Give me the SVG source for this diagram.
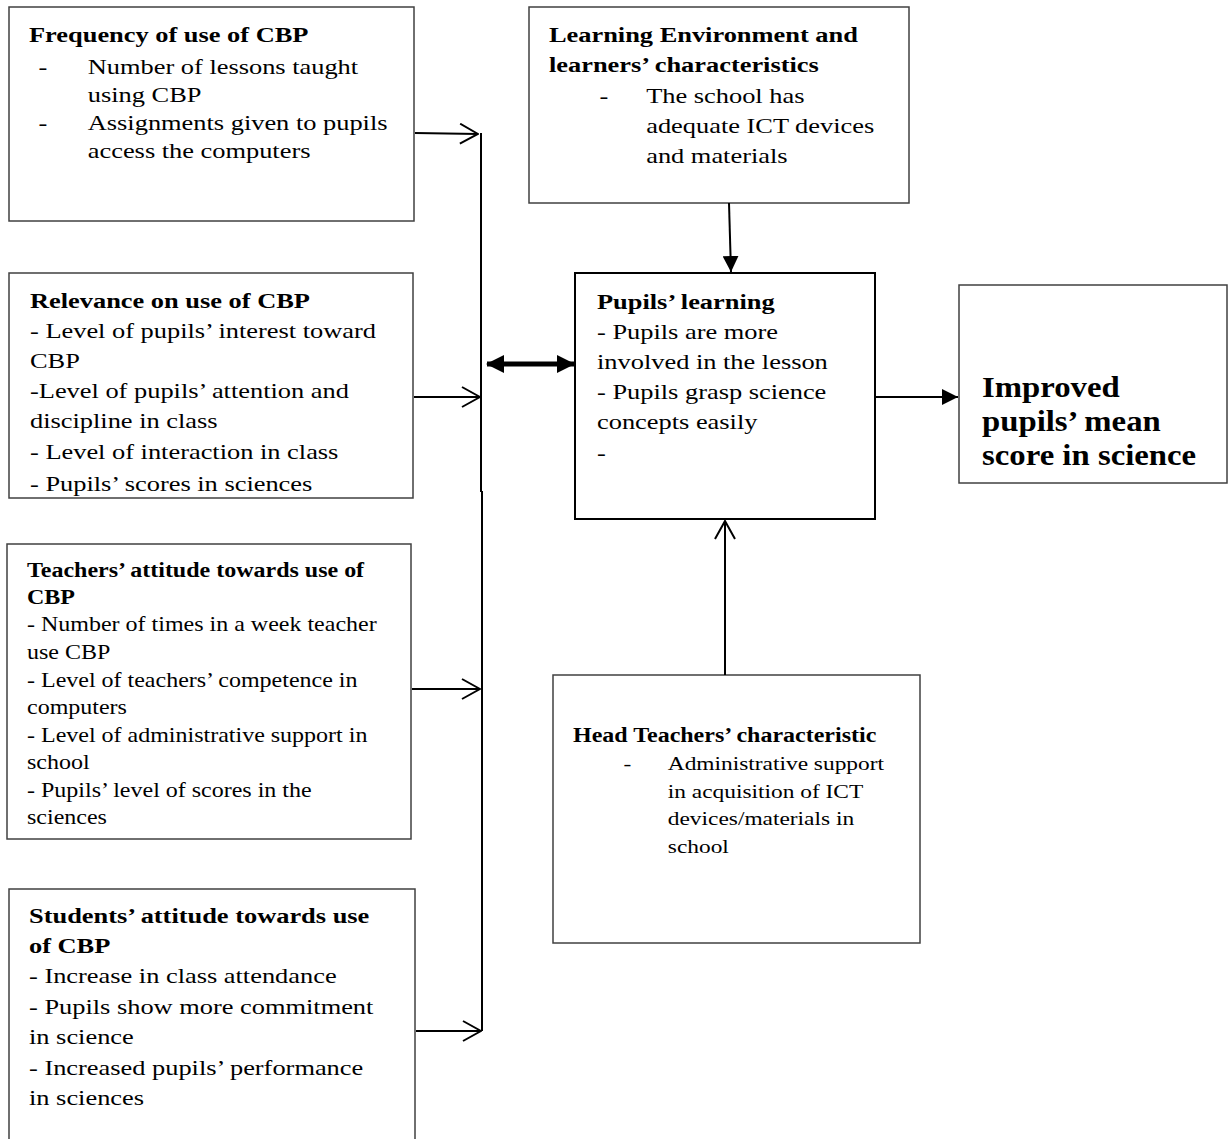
<svg xmlns="http://www.w3.org/2000/svg" width="1230" height="1139" viewBox="0 0 1230 1139">
<style>
text{font-family:"Liberation Serif","Times New Roman",serif;fill:#000}
.t{font-weight:bold;font-size:22px}
.b{font-size:22px}
.t20{font-weight:bold;font-size:20px}
.b20{font-size:20px}
.b19{font-size:19.5px}
.big{font-weight:bold;font-size:29px}
.box{fill:#fff;stroke:#404040;stroke-width:1.5}
.boxk{fill:#fff;stroke:#000;stroke-width:2}
.c{stroke:#000;stroke-width:2;fill:none}
</style>
<defs>
<marker id="open" viewBox="0 0 20 22" refX="19" refY="11" markerWidth="20" markerHeight="22" markerUnits="userSpaceOnUse" orient="auto"><path d="M1,1 L19,11 L1,21" fill="none" stroke="#000" stroke-width="2"/></marker>
<marker id="fill" viewBox="0 0 16 16" refX="16" refY="8" markerWidth="16" markerHeight="16" markerUnits="userSpaceOnUse" orient="auto"><path d="M0,0 L16,8 L0,16 Z" fill="#000"/></marker>
<marker id="thick" viewBox="0 0 18 18" refX="17" refY="9" markerWidth="18" markerHeight="18" markerUnits="userSpaceOnUse" orient="auto-start-reverse"><path d="M0,0 L18,9 L0,18 Z" fill="#000"/></marker>
</defs>

<g id="freq">
<rect class="box" x="9" y="7" width="405" height="214"/>
<g transform="translate(29,0) scale(1.2,1)">
<text class="t" x="0" y="42">Frequency of use of CBP</text>
<text class="b" x="8" y="74">-</text>
<text class="b" x="49" y="74">Number of lessons taught</text>
<text class="b" x="49" y="102">using CBP</text>
<text class="b" x="8" y="130">-</text>
<text class="b" x="49" y="130">Assignments given to pupils</text>
<text class="b" x="49" y="158">access the computers</text>
</g>
</g>

<g id="env">
<rect class="box" x="529" y="7" width="380" height="196"/>
<g transform="translate(549,0) scale(1.2,1)">
<text class="t" x="0" y="42">Learning Environment and</text>
<text class="t" x="0" y="72">learners’ characteristics</text>
<text class="b" x="42" y="103">-</text>
<text class="b" x="81" y="103">The school has</text>
<text class="b" x="81" y="133">adequate ICT devices</text>
<text class="b" x="81" y="163">and materials</text>
</g>
</g>

<g id="relev">
<rect class="box" x="9" y="273" width="404" height="225"/>
<g transform="translate(30,0) scale(1.2,1)">
<text class="t" x="0" y="308">Relevance on use of CBP</text>
<text class="b" x="0" y="338">- Level of pupils’ interest toward</text>
<text class="b" x="0" y="368">CBP</text>
<text class="b" x="0" y="398">-Level of pupils’ attention and</text>
<text class="b" x="0" y="428">discipline in class</text>
<text class="b" x="0" y="459">- Level of interaction in class</text>
<text class="b" x="0" y="491">- Pupils’ scores in sciences</text>
</g>
</g>

<g id="teach">
<rect class="box" x="7" y="544" width="404" height="295"/>
<g transform="translate(27,0) scale(1.2,1)">
<text class="t20" x="0" y="577">Teachers’ attitude towards use of</text>
<text class="t20" x="0" y="604">CBP</text>
<text class="b20" x="0" y="631">- Number of times in a week teacher</text>
<text class="b20" x="0" y="659">use CBP</text>
<text class="b20" x="0" y="687">- Level of teachers’ competence in</text>
<text class="b20" x="0" y="714">computers</text>
<text class="b20" x="0" y="742">- Level of administrative support in</text>
<text class="b20" x="0" y="769">school</text>
<text class="b20" x="0" y="797">- Pupils’ level of scores in the</text>
<text class="b20" x="0" y="824">sciences</text>
</g>
</g>

<g id="stud">
<rect class="box" x="9" y="889" width="406" height="270"/>
<g transform="translate(29,0) scale(1.2,1)">
<text class="t" x="0" y="923">Students’ attitude towards use</text>
<text class="t" x="0" y="953">of CBP</text>
<text class="b" x="0" y="983">- Increase in class attendance</text>
<text class="b" x="0" y="1014">- Pupils show more commitment</text>
<text class="b" x="0" y="1044">in science</text>
<text class="b" x="0" y="1075">- Increased pupils’ performance</text>
<text class="b" x="0" y="1105">in sciences</text>
</g>
</g>

<g id="pupils">
<rect class="boxk" x="575" y="273" width="300" height="246"/>
<g transform="translate(597,0) scale(1.2,1)">
<text class="t" x="0" y="309">Pupils’ learning</text>
<text class="b" x="0" y="339">- Pupils are more</text>
<text class="b" x="0" y="369">involved in the lesson</text>
<text class="b" x="0" y="399">- Pupils grasp science</text>
<text class="b" x="0" y="429">concepts easily</text>
<text class="b" x="0" y="460">-</text>
</g>
</g>

<g id="improved">
<rect class="box" x="959" y="285" width="268" height="198"/>
<g transform="translate(982,0) scale(1.13,1)">
<text class="big" x="0" y="397">Improved</text>
<text class="big" x="0" y="431">pupils’ mean</text>
<text class="big" x="0" y="465">score in science</text>
</g>
</g>

<g id="head">
<rect class="box" x="553" y="675" width="367" height="268"/>
<g transform="translate(573,0) scale(1.2,1)">
<text class="t20" x="0" y="742">Head Teachers’ characteristic</text>
<text class="b19" x="42" y="770">-</text>
<text class="b19" x="79" y="770">Administrative support</text>
<text class="b19" x="79" y="798">in acquisition of ICT</text>
<text class="b19" x="79" y="825">devices/materials in</text>
<text class="b19" x="79" y="853">school</text>
</g>
</g>

<g id="connectors">
<line class="c" x1="481" y1="133" x2="481" y2="492"/>
<line class="c" x1="482" y1="491" x2="482" y2="1031"/>
<line class="c" x1="415" y1="133" x2="478" y2="134" marker-end="url(#open)"/>
<line class="c" x1="414" y1="397" x2="480" y2="397" marker-end="url(#open)"/>
<line class="c" x1="412" y1="689" x2="480" y2="689" marker-end="url(#open)"/>
<line class="c" x1="416" y1="1031" x2="481" y2="1031" marker-end="url(#open)"/>
<line x1="487" y1="364" x2="574" y2="364" stroke="#000" stroke-width="5" marker-start="url(#thick)" marker-end="url(#thick)"/>
<line class="c" x1="729" y1="203" x2="731" y2="272" marker-end="url(#fill)"/>
<line class="c" x1="875" y1="397" x2="958" y2="397" marker-end="url(#fill)"/>
<line class="c" x1="725" y1="675" x2="725" y2="521" marker-end="url(#open)"/>
</g>
</svg>
